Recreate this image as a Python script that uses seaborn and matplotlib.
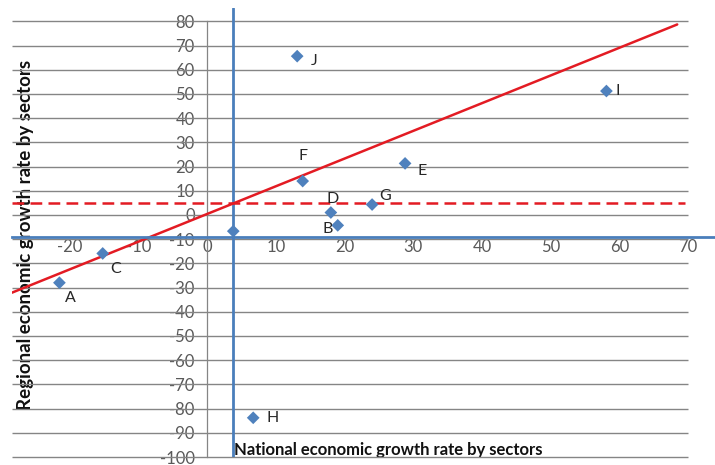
import matplotlib
matplotlib.use("Agg")
import matplotlib.pyplot as plt
import seaborn as sns
import pandas as pd

# Sector growth rates (%): national vs regional
sectors = ["A", "B", "C", "", "D", "E", "F", "G", "H", "I", "J"]
national = [-21.5, 19.0, -15.2, 3.8, 18.0, 28.8, 13.9, 24.0, 6.7, 58.1, 13.1]
regional = [-28.0, -4.3, -15.9, -6.7, 1.0, 21.3, 14.0, 4.3, -83.8, 51.2, 65.6]

# Reference levels
national_avg = 3.8
regional_avg = 4.8
axis_cross_y = -9

# Trend line end points
trend_x = [-28.4, 68.4]
trend_y = [-32.1, 78.7]

x_ticks = list(range(-20, 71, 10))
y_ticks = list(range(-100, 81, 10))

# Label offsets (pixels) for each sector's letter
label_offsets = {
    "A": (11, -15), "B": (-10, -4), "C": (13, -16), "D": (2, 14),
    "E": (17, -8), "F": (0, 25), "G": (13, 9), "H": (19, 0),
    "I": (11, 0), "J": (17, -5),
}

df = pd.DataFrame({"sector": sectors, "national": national, "regional": regional})

sns.set_style("white")
plt.rcParams["font.family"] = ["Lato", "DejaVu Sans"]
plt.rcParams["axes.unicode_minus"] = False

fig = plt.figure(figsize=(7.15, 4.65), dpi=100)
ax = fig.add_axes([12 / 715, 8 / 465, 703 / 715, 449 / 465])

xmin, xmax = -28.4, 73.9
grid_right = 70
ax.set_xlim(xmin, xmax)
ax.set_ylim(-100, 85.5)

grid_col = "#858585"
blue = "#4A7EBB"
red = "#E31B23"

ax.hlines(y_ticks, xmin, grid_right, colors=grid_col, lw=1.0, zorder=1, clip_on=False)

# Average lines
ax.axvline(national_avg, color=blue, lw=2, zorder=3)
ax.hlines(regional_avg, xmin, 69.6, colors=red, lw=1.8, linestyles=(0, (4.7, 2.5)), zorder=3)
ax.plot(trend_x, trend_y, color=red, lw=1.8, zorder=3)

sns.scatterplot(data=df, x="national", y="regional", marker="D", s=42,
                color="#4F81BD", edgecolor="none", ax=ax, zorder=5, legend=False)

for name, x, y in zip(sectors, national, regional):
    if not name:
        continue
    dx, dy = label_offsets[name]
    ax.annotate(name, (x, y), xytext=(dx, dy), textcoords="offset pixels",
                ha="center", va="center", fontsize=11.5, color="#262626", zorder=6)

# Axes: vertical through x=0, horizontal blue axis line
for side in ("top", "right"):
    ax.spines[side].set_visible(False)
ax.spines["left"].set_position(("data", 0))
ax.spines["left"].set_bounds(-100, 80)
ax.spines["left"].set_color(grid_col)
ax.spines["left"].set_linewidth(0.9)
ax.spines["bottom"].set_position(("data", axis_cross_y))
ax.spines["bottom"].set_color(blue)
ax.spines["bottom"].set_linewidth(2)
ax.spines["bottom"].set_zorder(3)

ax.set_xticks(x_ticks)
ax.set_yticks(y_ticks)
ax.tick_params(axis="both", length=0, labelsize=12, labelcolor="#595959")
ax.tick_params(axis="x", pad=1.5)
ax.tick_params(axis="y", pad=9)

ax.set_xlabel("National economic growth rate by sectors", fontsize=12,
              fontweight="bold", color="#111111", va="center")
ax.xaxis.set_label_coords(0.535, 0.016)
ax.set_ylabel("Regional economic growth rate by sectors", fontsize=13.5,
              fontweight="bold", color="#111111", va="center")
ax.yaxis.set_label_coords(0.019, 0.494)

fig.savefig("out.png", dpi=100)
